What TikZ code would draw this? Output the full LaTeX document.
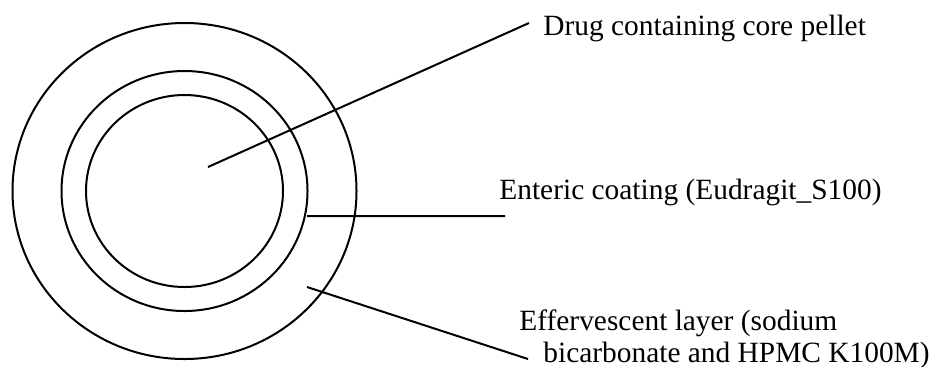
\documentclass[tikz,border=0pt]{standalone}
\usepackage{fontspec}
\setmainfont{Liberation Serif}
\usetikzlibrary{positioning}

\tikzset{
    layer/.style={line width=1pt},
    leader/.style={line width=1pt},
    label/.style={inner sep=0pt, anchor=base west, font=\fontsize{14.7}{16}\selectfont}
}

\begin{document}
\begin{tikzpicture}[x=0.5pt, y=-0.5pt]
\useasboundingbox (0,0) rectangle (929,366);

\coordinate (c) at (184.5,191);

% the three layers of the pellet
\draw[layer] (c) ellipse [x radius=172, y radius=168];
\draw[layer] (c) ellipse [x radius=123, y radius=120];
\draw[layer] (c) ellipse [x radius=98.5, y radius=96];

% leader lines
\coordinate (s1) at (208,167);
\coordinate (e1) at (529,23);
\coordinate (s2) at (307,216);
\coordinate (e2) at (505,216);
\coordinate (s3) at (307,287);
\coordinate (e3) at (528,359);

\node[label] (core) at (543,35) {Drug containing core pellet};
\node[label] (enteric) at (499,199) {Enteric coating (Eudragit\_S100)};
\node[label] (eff1) at (519,330) {Effervescent layer (sodium};
\node[label] (eff2) at (543,362) {bicarbonate and HPMC K100M)};

\draw[leader]
    (s1) -- (e1)
    (s2) -- (e2)
    (s3) -- (e3)
    ;
\end{tikzpicture}
\end{document}
